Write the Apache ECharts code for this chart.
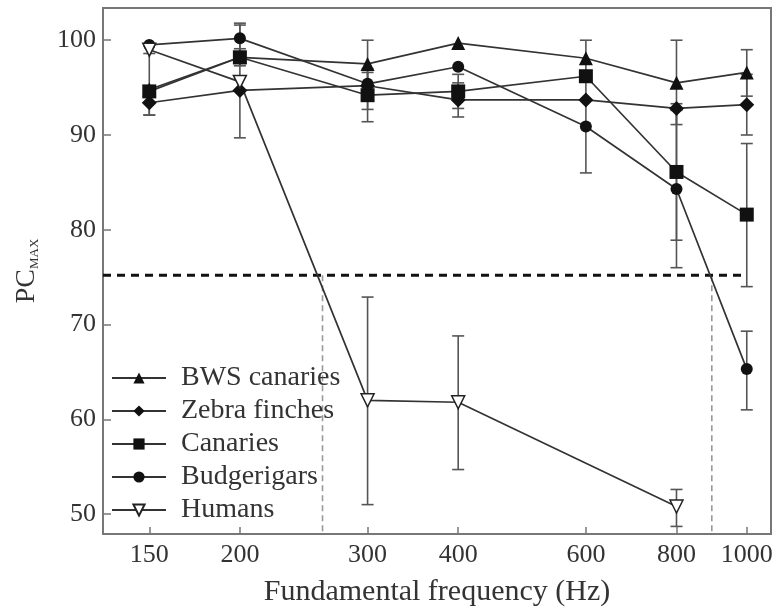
<!DOCTYPE html>
<html><head><meta charset="utf-8">
<script src="https://cdn.jsdelivr.net/npm/echarts@6/dist/echarts.min.js"></script>
<style>html,body{margin:0;padding:0;background:#fff}#c{width:781px;height:612px}</style>
</head><body><div id="c"></div>
<script>
// ---- data ----
const freqs = [150, 200, 300, 400, 600, 800, 1000];
const xTickLabels = [150, 200, 300, 400, 600, 800, 1000];
const yTickLabels = [50, 60, 70, 80, 90, 100];
const seriesNames = ['BWS canaries', 'Zebra finches', 'Canaries', 'Budgerigars', 'Humans'];
const bwsCanaries = [94.8, 98.2, 97.5, 99.7, 98.1, 95.5, 96.6];
const zebraFinches = [93.4, 94.7, 95.2, 93.7, 93.7, 92.8, 93.2];
const canaries = [94.6, 98.2, 94.2, 94.6, 96.2, 86.1, 81.6];
const budgerigars = [99.5, 100.2, 95.4, 97.2, 90.9, 84.3, 65.3];
const humansFreqs = [150, 200, 300, 400, 800];
const humans = [99.0, 95.6, 62.0, 61.8, 50.8];
// error bars [low, high]; null = none drawn
const bwsErr = [null, null, [95.0, 100.0], null, [96.2, 100.0], [91.1, 100.0], [94.1, 99.0]];
const zebraErr = [[92.1, 94.7], null, [92.7, 96.6], [91.9, 95.5], null, null, [90.0, 96.4]];
const canariesErr = [[92.1, 98.6], [97.3, 99.1], [91.4, 97.0], [92.8, 96.4], null, [78.9, 93.3], [74.0, 89.1]];
const budgerigarsErr = [null, [98.6, 101.8], null, null, [86.0, 95.8], [76.0, 92.6], [61.0, 69.3]];
const humansErr = [null, [89.7, 101.6], [51.0, 72.9], [54.7, 68.8], [48.7, 52.6]];
const criterion = 75.2;
const crossingFreqs = [260, 895];
const criterionEndFreq = 982;

// ---- chart ----
const SERIF = '"Liberation Serif", "DejaVu Serif", serif';
const TXT = '#333';
const X_MIN = 129.5, X_MAX = 1080, Y_MIN = 47.9, Y_MAX = 103.4;

function errSeries(xs, errs) {
  const data = [];
  errs.forEach((e, i) => { if (e) data.push([xs[i], e[0], e[1]]); });
  return {
    type: 'custom', data, z: 1, silent: true,
    encode: { x: 0, y: [1, 2] },
    renderItem(params, api) {
      const x = api.value(0);
      const lo = api.coord([x, api.value(1)]);
      const hi = api.coord([x, api.value(2)]);
      const w = 6;
      const style = { stroke: '#555', lineWidth: 1.6, fill: null };
      return { type: 'group', children: [
        { type: 'line', shape: { x1: lo[0], y1: lo[1], x2: hi[0], y2: hi[1] }, style },
        { type: 'line', shape: { x1: lo[0] - w, y1: lo[1], x2: lo[0] + w, y2: lo[1] }, style },
        { type: 'line', shape: { x1: hi[0] - w, y1: hi[1], x2: hi[0] + w, y2: hi[1] }, style }
      ] };
    }
  };
}

function lineSeries(name, xs, ys, symbol, size, extra) {
  return Object.assign({
    name, type: 'line', data: xs.map((x, i) => [x, ys[i]]),
    symbol, symbolSize: size, z: 3,
    lineStyle: { color: '#333', width: 1.7 },
    itemStyle: { color: '#111', borderColor: '#111', borderWidth: 0 },
    emphasis: { disabled: true }
  }, extra || {});
}

const chart = echarts.init(document.getElementById('c'), null, { renderer: 'canvas' });
chart.setOption({
  animation: false,
  backgroundColor: '#fff',
  grid: { left: 103, right: 10, top: 8, bottom: 78, show: true, borderColor: '#777', borderWidth: 2 },
  legend: {
    data: seriesNames, orient: 'vertical', left: 111, top: 364,
    itemWidth: 54, itemHeight: 14, itemGap: 5, padding: 0,
    textStyle: { fontFamily: SERIF, fontSize: 28, color: TXT, padding: [0, 0, 0, 10] },
    inactiveColor: '#111', selectedMode: false
  },
  xAxis: {
    type: 'log', min: X_MIN, max: X_MAX, logBase: 10,
    name: 'Fundamental frequency (Hz)', nameLocation: 'middle', nameGap: 43,
    nameTextStyle: { fontFamily: SERIF, fontSize: 30, color: TXT },
    axisLine: { show: true, lineStyle: { color: '#777', width: 2 } },
    axisTick: { show: true, inside: true, length: 7, lineStyle: { color: '#777', width: 1.5 }, customValues: xTickLabels },
    axisLabel: { fontFamily: SERIF, fontSize: 26, color: TXT, margin: 8, customValues: xTickLabels,
      formatter: (v) => String(Math.round(v)) },
    splitLine: { show: false }, minorTick: { show: false }
  },
  yAxis: {
    type: 'value', min: Y_MIN, max: Y_MAX,
    name: '{a|PC}{b|MAX}', nameLocation: 'middle', nameGap: 62, nameRotate: 90,
    nameTextStyle: { rich: {
      a: { fontFamily: SERIF, fontSize: 28, color: TXT, lineHeight: 30, verticalAlign: 'bottom' },
      b: { fontFamily: SERIF, fontSize: 13, color: TXT, lineHeight: 30, verticalAlign: 'bottom', padding: [8, 0, 0, 0] }
    } },
    axisLine: { show: true, lineStyle: { color: '#777', width: 2 } },
    axisTick: { show: true, inside: true, length: 8, lineStyle: { color: '#777', width: 1.5 }, customValues: yTickLabels },
    axisLabel: { fontFamily: SERIF, fontSize: 26, color: TXT, margin: 7, customValues: yTickLabels },
    splitLine: { show: false }
  },
  series: [
    { type: 'line', data: [[X_MIN, criterion], [criterionEndFreq, criterion]], symbol: 'none', silent: true, z: 2,
      lineStyle: { color: '#111', width: 3, type: [8, 6] } },
    { type: 'line', data: [[crossingFreqs[0], criterion], [crossingFreqs[0], Y_MIN]], symbol: 'none', silent: true, z: 1,
      lineStyle: { color: '#999', width: 1.6, type: [6, 4] } },
    { type: 'line', data: [[crossingFreqs[1], criterion], [crossingFreqs[1], Y_MIN]], symbol: 'none', silent: true, z: 1,
      lineStyle: { color: '#999', width: 1.6, type: [6, 4] } },
    errSeries(freqs, bwsErr),
    errSeries(freqs, zebraErr),
    errSeries(freqs, canariesErr),
    errSeries(freqs, budgerigarsErr),
    errSeries(humansFreqs, humansErr),
    lineSeries('BWS canaries', freqs, bwsCanaries, 'triangle', 14),
    lineSeries('Zebra finches', freqs, zebraFinches, 'diamond', 15),
    lineSeries('Canaries', freqs, canaries, 'rect', 14),
    lineSeries('Budgerigars', freqs, budgerigars, 'circle', 12),
    lineSeries('Humans', humansFreqs, humans, 'triangle', 13, {
      symbolRotate: 180,
      itemStyle: { color: '#fff', borderColor: '#222', borderWidth: 1.5 }
    })
  ]
});
</script></body></html>
